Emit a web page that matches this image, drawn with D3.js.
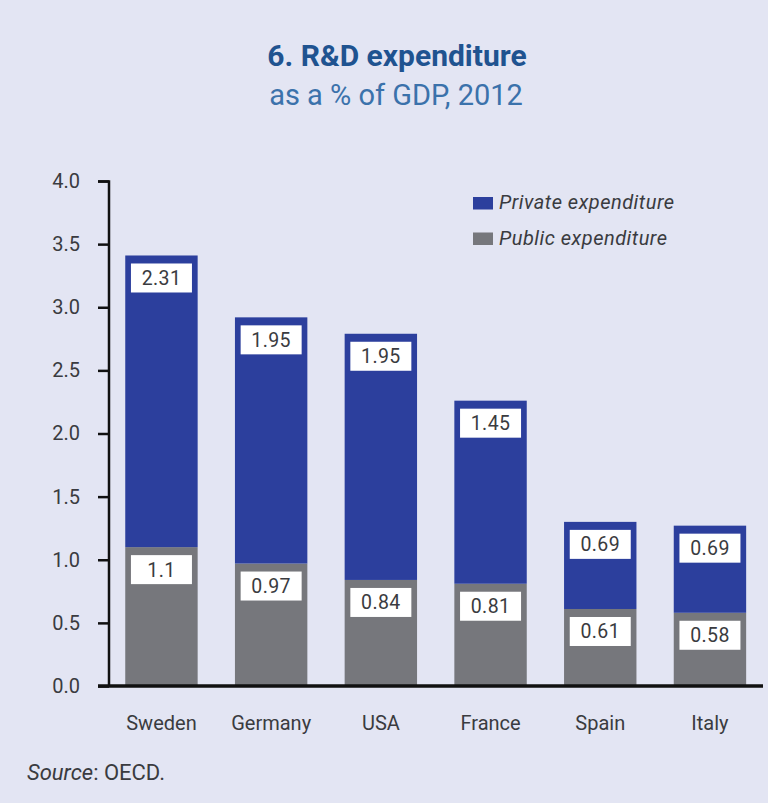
<!DOCTYPE html>
<html>
<head>
<meta charset="utf-8">
<script src="https://cdn.jsdelivr.net/npm/d3@7/dist/d3.min.js"></script>
<style>
html,body{margin:0;padding:0;background:#e3e5f3;}
svg{display:block;}
</style>
</head>
<body>
<script>
const countries = ["Sweden","Germany","USA","France","Spain","Italy"];
const publicExp = [1.1,0.97,0.84,0.81,0.61,0.58];
const privateExp = [2.31,1.95,1.95,1.45,0.69,0.69];
const yTicks = [0,0.5,1.0,1.5,2.0,2.5,3.0,3.5,4.0];
const seriesNames = ["Private expenditure","Public expenditure"];

const W = 768, H = 803;
const colBlue = "#2c3f9d", colGray = "#76777c", txt = "#3a3b40";
const svg = d3.select("body").append("svg").attr("width",W).attr("height",H);
svg.append("rect").attr("width",W).attr("height",H).attr("fill","#e3e5f3");

svg.append("text").attr("x",397).attr("y",66).attr("text-anchor","middle")
  .attr("font-family","Roboto").attr("font-weight","bold").attr("font-size",30)
  .attr("fill","#1f5390").text("6. R&D expenditure");
svg.append("text").attr("x",396).attr("y",105).attr("text-anchor","middle")
  .attr("font-family","Roboto").attr("font-size",29)
  .attr("fill","#3b72ab").text("as a % of GDP, 2012");

const y = d3.scaleLinear().domain([0,4]).range([686,181]);
const x = d3.scaleBand().domain(countries).range([106.6,764.8]).paddingInner(0.34).paddingOuter(0.17);

const data = countries.map((c,i)=>({c, pub:publicExp[i], priv:privateExp[i]}));

const g = svg.append("g");
g.selectAll("rect.pub").data(data).join("rect").attr("class","pub")
  .attr("x",d=>x(d.c)).attr("width",x.bandwidth())
  .attr("y",d=>y(d.pub)).attr("height",d=>y(0)-y(d.pub)).attr("fill",colGray);
g.selectAll("rect.priv").data(data).join("rect").attr("class","priv")
  .attr("x",d=>x(d.c)).attr("width",x.bandwidth())
  .attr("y",d=>y(d.pub+d.priv)).attr("height",d=>y(d.pub)-y(d.pub+d.priv)).attr("fill",colBlue);

const bw = 61, bh = 29, off = 8;
function addLabels(accTop, val, cls){
  const lg = g.selectAll("g."+cls).data(data).join("g").attr("class",cls)
    .attr("transform",d=>`translate(${x(d.c)+x.bandwidth()/2},${y(accTop(d))+off})`);
  lg.append("rect").attr("x",-bw/2).attr("y",0).attr("width",bw).attr("height",bh).attr("fill","#ffffff");
  lg.append("text").attr("x",0).attr("y",bh/2+7).attr("text-anchor","middle")
    .attr("font-family","Roboto").attr("font-size",19.5).attr("letter-spacing",0.4).attr("fill",txt).text(val);
}
addLabels(d=>d.pub+d.priv, d=>d.priv, "lpriv");
addLabels(d=>d.pub, d=>d.pub, "lpub");

const yAxis = d3.axisLeft(y).tickValues(yTicks).tickFormat(d3.format(".1f")).tickSize(11).tickPadding(18);
const ya = svg.append("g").attr("transform","translate(109,0)").call(yAxis);
ya.select(".domain").attr("stroke","#111").attr("stroke-width",2.5).attr("d","M-11,181.5H0V686");
ya.selectAll(".tick line").attr("stroke","#111").attr("stroke-width",2.5);
ya.selectAll(".tick text").attr("font-family","Roboto").attr("font-size",20).attr("fill",txt);

const xAxis = d3.axisBottom(x).tickSize(0).tickPadding(30);
const xa = svg.append("g").attr("transform","translate(0,686)").call(xAxis);
xa.select(".domain").attr("stroke","#111").attr("stroke-width",3.5).attr("d","M98,0H763");
xa.selectAll(".tick text").attr("font-family","Roboto").attr("font-size",20).attr("fill",txt);

const leg = svg.append("g");
const legColors = [colBlue, colGray];
const legY = [203, 238.5];
seriesNames.forEach((n,i)=>{
  leg.append("rect").attr("x",473).attr("y",legY[i]-6).attr("width",20).attr("height",12.5).attr("fill",legColors[i]);
  leg.append("text").attr("x",499).attr("y",legY[i]+6).attr("font-family","Roboto").attr("font-style","italic")
    .attr("font-size",20).attr("letter-spacing",0.5).attr("fill",txt).text(n);
});

const src = svg.append("text").attr("x",27).attr("y",780).attr("font-family","Roboto").attr("font-size",22).attr("fill",txt);
src.append("tspan").attr("font-style","italic").text("Source");
src.append("tspan").text(": OECD.");
</script>
</body>
</html>
